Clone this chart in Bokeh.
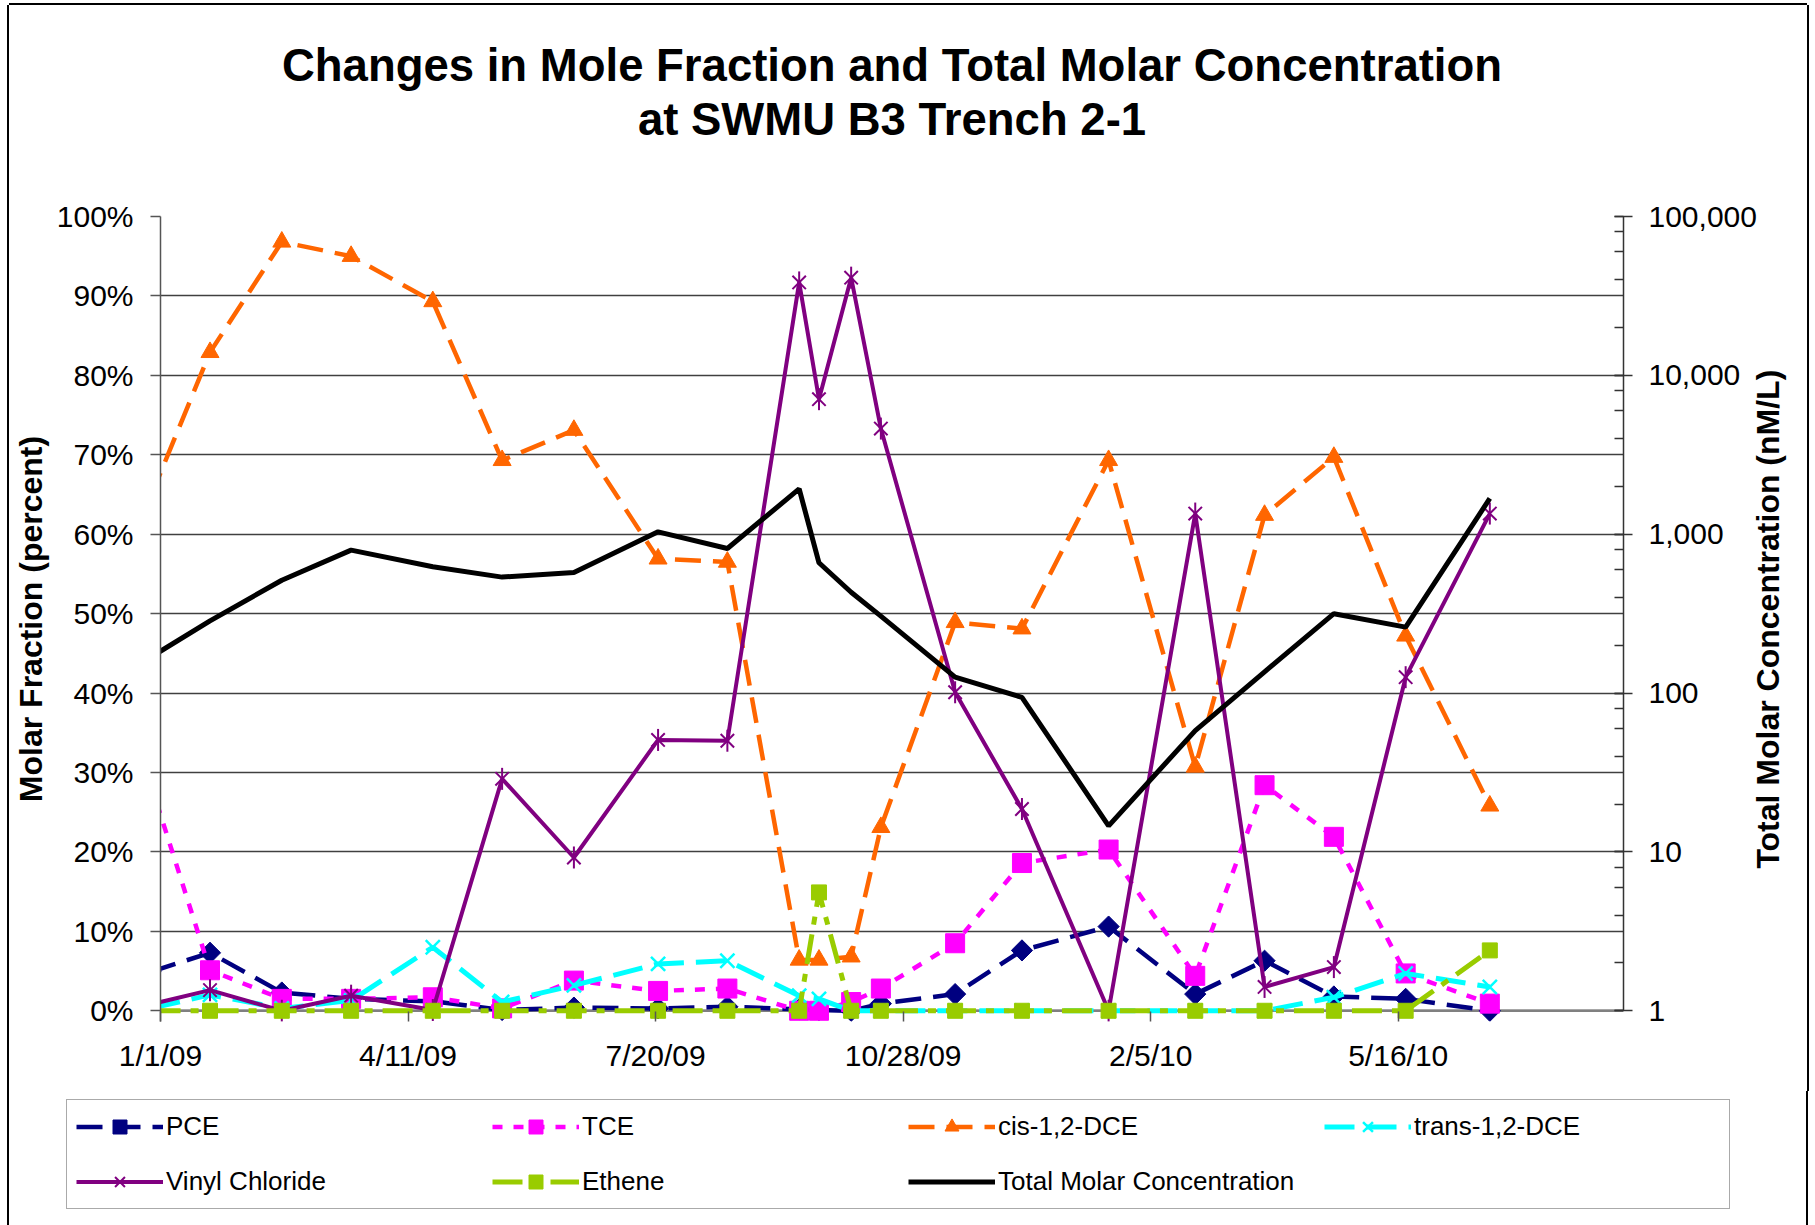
import math
import pandas as pd
from bokeh.plotting import figure
from bokeh.models import (ColumnDataSource, Range1d, LogScale, LogAxis, LinearAxis, FixedTicker, Span,
                          Title, LogTicker, PrintfTickFormatter, NumeralTickFormatter, Legend, LegendItem)
from bokeh.embed import file_html
from bokeh.resources import INLINE

# ---------------- data ----------------
title_line1 = "Changes in Mole Fraction and Total Molar Concentration"
title_line2 = "at SWMU B3 Trench 2-1"
left_axis_title = "Molar Fraction (percent)"
right_axis_title = "Total Molar Concentration (nM/L)"

sample_dates = ["2008-12-28", "2009-01-21", "2009-02-19", "2009-03-19", "2009-04-21",
                "2009-05-19", "2009-06-17", "2009-07-21", "2009-08-18", "2009-09-16",
                "2009-09-24", "2009-10-07", "2009-10-19", "2009-11-18", "2009-12-15",
                "2010-01-19", "2010-02-23", "2010-03-23", "2010-04-20", "2010-05-19",
                "2010-06-22"]

pce = [4.9, 7.3, 2.3, 1.5, 1.2, 0.1, 0.4, 0.3, 0.5, 0.2, 0.1, 0.0, 0.9, 2.1, 7.6,
       10.6, 2.1, 6.3, 1.8, 1.5, 0.0]
tce = [28.6, 5.1, 1.5, 1.5, 1.7, 0.3, 3.8, 2.5, 2.8, 0.0, 0.0, 1.1, 2.8, 8.5, 18.6,
       20.3, 4.4, 28.4, 21.9, 4.7, 0.9]
cis_dce = [64.7, 82.9, 96.8, 95.0, 89.3, 69.3, 73.1, 56.9, 56.5, 6.4, 6.4, 6.8, 23.1,
           48.9, 48.1, 69.3, 30.7, 62.4, 69.7, 47.2, 25.8]
trans_dce = [0.3, 2.0, 0.3, 1.3, 8.0, 1.1, 3.2, 5.9, 6.3, 1.9, 1.5, 0.0, 0.0, 0.0, 0.0,
             0.0, 0.0, 0.0, 1.7, 4.7, 3.0]
vinyl_chloride = [0.8, 2.6, 0.0, 1.9, 0.1, 29.2, 19.3, 34.1, 34.0, 91.7, 77.0, 92.3,
                  73.3, 40.1, 25.4, 0.0, 62.6, 3.0, 5.5, 42.0, 62.6]
ethene = [0.0, 0.0, 0.0, 0.0, 0.0, 0.0, 0.0, 0.0, 0.0, 0.0, 14.9, 0.0, 0.0, 0.0, 0.0,
          0.0, 0.0, 0.0, 0.0, 0.0, 7.6]
total_molar = [168, 285, 513, 794, 624, 537, 575, 1035, 813, 1928, 661, 431, 305, 126,
               94, 14.6, 58, 136, 316, 260, 1679]

x_tick_dates = ["2009-01-01", "2009-04-11", "2009-07-20", "2009-10-28", "2010-02-05", "2010-05-16"]
x_tick_labels = ["1/1/09", "4/11/09", "7/20/09", "10/28/09", "2/5/10", "5/16/10"]
pct_ticks = [0, 10, 20, 30, 40, 50, 60, 70, 80, 90, 100]
x_axis_start = "2009-01-01"
x_axis_end = "2010-08-15"
conc_axis_min = 1
conc_axis_max = 100000

# ---------------- layout constants ----------------
FONT = "Liberation Sans"
PAD = 1.35                # room below 0% so markers sitting on zero are not clipped
RIGHT_TITLE_START = 17.9  # where (in % units) the upward-reading right title begins
FIG_W = 1797
CHART_H = 1086
LEGEND_H = 134


def ms(d):
    return pd.Timestamp(d).value / 1e6


src = ColumnDataSource(dict(date=pd.to_datetime(sample_dates), pce=pce, tce=tce,
                            cis=cis_dce, trans=trans_dce, vc=vinyl_chloride,
                            ethene=ethene, total=total_molar))

p = figure(x_axis_type="datetime", output_backend="svg", toolbar_location=None,
           frame_width=1463, frame_height=805,
           min_border_left=150, min_border_right=184, min_border_top=211,
           min_border_bottom=CHART_H - 211 - 805,
           x_range=Range1d(ms(x_axis_start), ms(x_axis_end)),
           y_range=Range1d(-PAD, 100),
           background_fill_color="white", border_fill_color="white")
p.extra_y_ranges = {"conc": Range1d(conc_axis_min * 10 ** (-PAD / 20), conc_axis_max)}
p.extra_y_scales = {"conc": LogScale()}
p.outline_line_color = None
p.styles = {"margin-left": "9px", "margin-top": "5px", "background-color": "white",
            "box-shadow": "-2px 0 0 0 #000000, 2px 0 0 0 #000000, 0 -2px 0 0 #000000"}

# title: two centred lines (p.title is the outermost one)
TITLE_STYLE = dict(text_font=FONT, text_font_size="45.5px", text_font_style="bold",
                   text_color="black")
p.title.text = title_line1
p.title.align = "center"
p.title.text_font = FONT
p.title.text_font_size = "45.5px"
p.title.text_font_style = "bold"
p.title.text_color = "black"
p.title.standoff = 1
p.title.offset = 4
spacer = Title(text=" ", align="center", standoff=18, **TITLE_STYLE)
p.add_layout(spacer, "above")
t2 = Title(text=title_line2, align="center", standoff=1, offset=4, **TITLE_STYLE)
p.add_layout(t2, "above")

# grid
p.xgrid.visible = False
p.ygrid.grid_line_color = "#404040"
p.ygrid.grid_line_width = 1.3

# left axis
yax = p.yaxis[0]
yax.ticker = FixedTicker(ticks=pct_ticks)
yax.formatter = PrintfTickFormatter(format="%d%%")
yax.axis_label = left_axis_title
yax.axis_label_text_font = FONT
yax.axis_label_text_font_size = "32px"
yax.axis_label_text_font_style = "bold"
yax.axis_label_text_color = "black"
yax.axis_label_standoff = 5
yax.major_label_text_font = FONT
yax.major_label_text_font_size = "30px"
yax.major_label_text_color = "black"
yax.major_label_standoff = 17
yax.major_tick_out = 10
yax.major_tick_in = 0
yax.minor_tick_out = 0
yax.minor_tick_in = 0
yax.axis_line_color = "#555555"
yax.axis_line_width = 1.5
yax.major_tick_line_color = "#555555"
yax.major_tick_line_width = 1.5

# bottom axis (its rule is drawn at 0% by the span below)
xax = p.xaxis[0]
xax.ticker = FixedTicker(ticks=[ms(d) for d in x_tick_dates])
xax.major_label_overrides = {ms(d): lab for d, lab in zip(x_tick_dates, x_tick_labels)}
xax.major_label_text_font = FONT
xax.major_label_text_font_size = "30px"
xax.major_label_text_color = "black"
xax.major_label_standoff = 17
xax.major_tick_out = 0
xax.major_tick_in = 10
xax.minor_tick_out = 0
xax.minor_tick_in = 0
xax.axis_line_color = None
xax.major_tick_line_color = "#555555"
xax.major_tick_line_width = 1.5

zero_rule = Span(location=0, dimension="width", line_color="#808080", line_width=2.5,
                 level="underlay")
p.add_layout(zero_rule)

# right (log) axis
rax = LogAxis(y_range_name="conc", ticker=LogTicker(desired_num_ticks=6),
              formatter=NumeralTickFormatter(format="0,0"),
              bounds=(conc_axis_min, conc_axis_max))
rax.major_label_text_font = FONT
rax.major_label_text_font_size = "30px"
rax.major_label_text_color = "black"
rax.major_label_standoff = 16
rax.major_tick_out = 9
rax.major_tick_in = 9
rax.minor_tick_out = 0
rax.minor_tick_in = 9
rax.axis_line_color = "#333333"
rax.axis_line_width = 1.5
rax.major_tick_line_color = "#333333"
rax.minor_tick_line_color = "#333333"
rax.major_tick_line_width = 1.5
rax.minor_tick_line_width = 1.3
p.add_layout(rax, "right")

# right-hand axis title, reading bottom-to-top like the reference
rtitle = LinearAxis(ticker=FixedTicker(ticks=[RIGHT_TITLE_START]),
                    major_label_overrides={RIGHT_TITLE_START: right_axis_title},
                    major_label_orientation=math.pi / 2,
                    axis_line_color=None, major_tick_line_color=None, minor_tick_line_color=None,
                    major_tick_out=0, major_tick_in=0, minor_tick_out=0, minor_tick_in=0,
                    major_label_standoff=9, major_label_text_font=FONT,
                    major_label_text_font_size="32px", major_label_text_font_style="bold",
                    major_label_text_color="black")
p.add_layout(rtitle, "right")

# ---------------- series ----------------
NAVY, MAG, ORANGE, CYAN, PURPLE, GREEN = "#000080", "#FF00FF", "#FF6600", "#00FFFF", "#800080", "#99CC00"

STYLES = {
    "pce": dict(line=dict(line_color=NAVY, line_width=4.5, line_dash="26 12"),
                marks=[dict(marker="square", angle=math.pi / 4, size=15, fill_color=NAVY, line_color=NAVY)]),
    "tce": dict(line=dict(line_color=MAG, line_width=4.5, line_dash="10 11"),
                marks=[dict(marker="square", size=19, fill_color=MAG, line_color=MAG)]),
    "cis": dict(line=dict(line_color=ORANGE, line_width=4.5, line_dash="26 12"),
                marks=[dict(marker="triangle", size=18, fill_color=ORANGE, line_color=ORANGE)]),
    "trans": dict(line=dict(line_color=CYAN, line_width=5, line_dash="30 12"),
                  marks=[dict(marker="x", size=20, line_color=CYAN, line_width=2.5)]),
    "vc": dict(line=dict(line_color=PURPLE, line_width=4),
               marks=[dict(marker="x", size=19, line_color=PURPLE, line_width=2),
                      dict(marker="dash", angle=math.pi / 2, size=22, line_color=PURPLE, line_width=2)]),
    "ethene": dict(line=dict(line_color=GREEN, line_width=5, line_dash="30 10 8 10"),
                   marks=[dict(marker="square", size=15, fill_color=GREEN, line_color=GREEN)]),
    "total": dict(line=dict(line_color="black", line_width=5), marks=[]),
}
LABELS = [("pce", "PCE"), ("tce", "TCE"), ("cis", "cis-1,2-DCE"), ("trans", "trans-1,2-DCE"),
          ("vc", "Vinyl Chloride"), ("ethene", "Ethene"), ("total", "Total Molar Concentration")]


def draw_series(fig, key, **extra):
    st = STYLES[key]
    rs = [fig.line("date", key, source=src, **st["line"], **extra)]
    for m in st["marks"]:
        rs.append(fig.scatter("date", key, source=src, **m, **extra))
    return rs


for key, _ in LABELS:
    if key == "total":
        draw_series(p, key, y_range_name="conc")
    else:
        draw_series(p, key)

# ---------------- legend strip (its own root, directly below the chart) ----------------
leg_fig = figure(width=FIG_W, height=LEGEND_H, output_backend="svg", toolbar_location=None,
                 x_axis_location=None, y_axis_location=None, title_location=None,
                 min_border=0, x_range=Range1d(0, 1), y_range=Range1d(0, 1),
                 background_fill_color="white", border_fill_color="white")
leg_fig.outline_line_color = None
leg_fig.grid.visible = False
leg_fig.styles = {"margin-left": "9px", "background-color": "white",
                  "box-shadow": "-2px 0 0 0 #000000, 2px 0 0 0 #000000"}
items = []
for key, label in LABELS:
    items.append(LegendItem(label=label, renderers=draw_series(leg_fig, key)))

legend = Legend(items=items, orientation="horizontal", ncols=4, location=(57, 16),
                glyph_width=87, glyph_height=35, label_width=306, label_height=35,
                label_standoff=3, spacing=20, padding=9, margin=0,
                label_text_font=FONT, label_text_font_size="26px", label_text_color="black",
                border_line_color="#555555", border_line_width=1.5,
                background_fill_color="white", background_fill_alpha=1.0)
leg_fig.add_layout(legend, "center")

open("out.html", "w").write(file_html([p, leg_fig], INLINE))
